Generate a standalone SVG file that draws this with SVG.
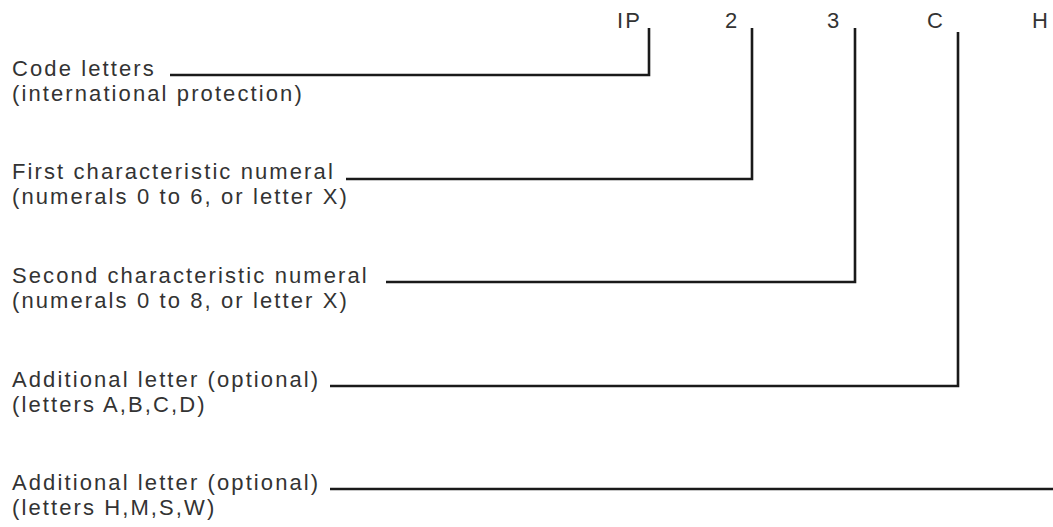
<svg xmlns="http://www.w3.org/2000/svg" width="1053" height="527" viewBox="0 0 1053 527">
<style>
text{font-family:"Liberation Sans",Arial,sans-serif;font-size:22px;letter-spacing:2.1px;fill:#333}
.c{fill:none;stroke:#1a1a1a;stroke-width:2.6;stroke-linecap:butt;stroke-linejoin:miter}
</style>
<rect width="1053" height="527" fill="#fff"/>
<g id="code-IP"><text x="617" y="28">IP</text></g>
<g id="code-2"><text x="725" y="28">2</text></g>
<g id="code-3"><text x="827" y="28">3</text></g>
<g id="code-C"><text x="927" y="28">C</text></g>
<g id="code-H"><text x="1032" y="28">H</text></g>
<g id="label-code-letters"><text x="12" y="76">Code letters</text><text x="12" y="101">(international protection)</text></g>
<g id="label-first-numeral"><text x="12" y="179">First characteristic numeral</text><text x="12" y="204">(numerals 0 to 6, or letter X)</text></g>
<g id="label-second-numeral"><text x="12" y="283">Second characteristic numeral</text><text x="12" y="308">(numerals 0 to 8, or letter X)</text></g>
<g id="label-additional-1"><text x="12" y="387">Additional letter (optional)</text><text x="12" y="412">(letters A,B,C,D)</text></g>
<g id="label-additional-2"><text x="12" y="490">Additional letter (optional)</text><text x="12" y="515">(letters H,M,S,W)</text></g>
<g id="connectors">
<polyline class="c" points="170,75 649,75 649,28"/>
<polyline class="c" points="346,179 752,179 752,28"/>
<polyline class="c" points="386,282 855,282 855,28"/>
<polyline class="c" points="330,386 958,386 958,32"/>
<polyline class="c" points="330,489 1053,489"/>
</g>
</svg>
